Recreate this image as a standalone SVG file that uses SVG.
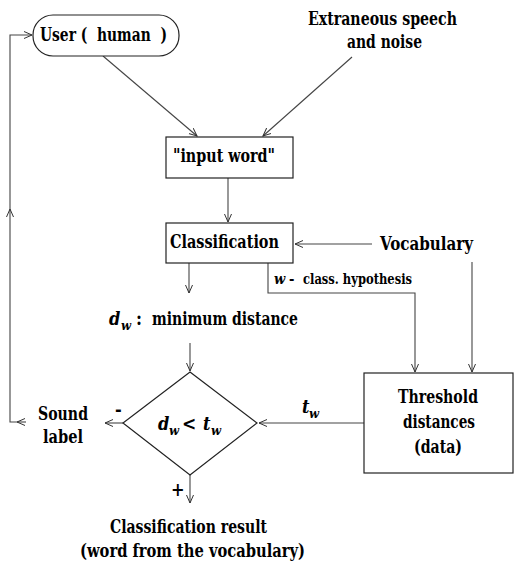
<svg xmlns="http://www.w3.org/2000/svg" width="514" height="564" viewBox="0 0 514 564">
<defs>
<marker id="ah" markerWidth="10" markerHeight="10" refX="8" refY="4" orient="auto" markerUnits="userSpaceOnUse">
<path d="M0,0.5 L8,4 L0,7.5" fill="none" stroke="#333" stroke-width="1"/>
</marker>
<style>
text{font-family:'DejaVu Serif Condensed','DejaVu Serif',serif;font-weight:bold;fill:#000;white-space:pre}
.t{font-size:18px}
.s{font-size:14.5px}
.sub{font-size:13px;font-style:italic}
.i{font-style:italic}
.box{fill:#fff;stroke:#222;stroke-width:1.2}
.a{fill:none;stroke:#444;stroke-width:1.1;marker-end:url(#ah)}
</style>
</defs>
<rect width="514" height="564" fill="#fff"/>
<g id="connectors">
<path class="a" d="M103,56 L197,136"/>
<path class="a" d="M352,57 L263,136"/>
<path class="a" d="M228,178 L228,222"/>
<path class="a" d="M372,244 L295,244"/>
<path class="a" d="M189,263 L189,293"/>
<path class="a" d="M268,263 L268,293 L415,293 L415,372"/>
<path class="a" d="M472,262 L472,372"/>
<path class="a" d="M190,343 L190,371"/>
<path class="a" d="M364,423 L259,423"/>
<path class="a" d="M123,423 L105,423"/>
<path class="a" d="M190,475 L190,503"/>
<path class="a" d="M26,422 L17,422"/>
<path class="a" d="M17,422 L10,422 L10,209"/>
<path class="a" d="M10,209 L10,35 L32,35"/>
</g>
<g id="user">
<rect class="box" x="33" y="15" width="146" height="41" rx="20" ry="20"/>
<text class="t" x="40" y="41" textLength="127" lengthAdjust="spacingAndGlyphs" xml:space="preserve">User (  human  )</text>
</g>
<g id="noise">
<text class="t" x="308" y="25" textLength="149" lengthAdjust="spacingAndGlyphs">Extraneous speech</text>
<text class="t" x="347" y="48" textLength="75" lengthAdjust="spacingAndGlyphs">and noise</text>
</g>
<g id="input">
<rect class="box" x="166" y="137" width="127" height="41"/>
<text class="t" x="173" y="162" textLength="102" lengthAdjust="spacingAndGlyphs">"input word"</text>
</g>
<g id="classification">
<rect class="box" x="166" y="223" width="127" height="40"/>
<text class="t" x="170" y="248" textLength="109" lengthAdjust="spacingAndGlyphs">Classification</text>
</g>
<g id="vocabulary">
<text class="t" x="380" y="250" textLength="93" lengthAdjust="spacingAndGlyphs">Vocabulary</text>
</g>
<g id="hypothesis">
<text class="s i" x="274" y="284">w</text>
<text class="s" x="289" y="284">-</text>
<text class="s" x="303" y="284" textLength="109" lengthAdjust="spacingAndGlyphs">class. hypothesis</text>
</g>
<g id="mindist">
<text class="t i" x="109" y="325">d</text>
<text class="sub" x="121" y="330">w</text>
<text class="t" x="136" y="325">:</text>
<text class="t" x="152" y="325" textLength="146" lengthAdjust="spacingAndGlyphs">minimum distance</text>
</g>
<g id="decision">
<polygon class="box" points="190,372 257,423 190,475 123,423"/>
<text class="t i" x="158" y="430">d</text>
<text class="sub" x="169" y="435">w</text>
<text class="t" x="182" y="430" style="font-size:19px">&lt;</text>
<text class="t i" x="203" y="430">t</text>
<text class="sub" x="211" y="435">w</text>
<text class="t" x="115" y="416">-</text>
<text class="t" x="171" y="496">+</text>
</g>
<g id="threshold">
<rect class="box" x="364" y="373" width="149" height="100"/>
<text class="t" x="398" y="403" textLength="80" lengthAdjust="spacingAndGlyphs">Threshold</text>
<text class="t" x="403" y="428" textLength="72" lengthAdjust="spacingAndGlyphs">distances</text>
<text class="t" x="414" y="453" textLength="48" lengthAdjust="spacingAndGlyphs">(data)</text>
</g>
<g id="tw">
<text class="t i" x="302" y="413">t</text>
<text class="sub" x="309" y="418">w</text>
</g>
<g id="sound">
<text class="t" x="38" y="420" textLength="50" lengthAdjust="spacingAndGlyphs">Sound</text>
<text class="t" x="43" y="443" textLength="40" lengthAdjust="spacingAndGlyphs">label</text>
</g>
<g id="result">
<text class="t" x="110" y="533" textLength="157" lengthAdjust="spacingAndGlyphs">Classification result</text>
<text class="t" x="80" y="557" textLength="225" lengthAdjust="spacingAndGlyphs">(word from the vocabulary)</text>
</g>
</svg>
